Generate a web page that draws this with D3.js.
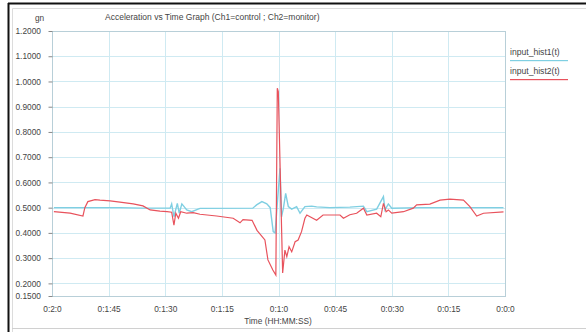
<!DOCTYPE html>
<html><head><meta charset="utf-8">
<script src="https://cdn.jsdelivr.net/npm/d3@7"></script>
<style>body{margin:0;background:#fff;overflow:hidden}svg{display:block;font-family:"Liberation Sans",Arial,sans-serif}</style>
</head><body><svg id="c" width="586" height="332"></svg>
<script>
// time in seconds (axis runs 120 -> 0), values in gn
const hist1Time = [119.5,102,95.9,88.7,88.3,87.7,86.8,86.3,85.6,84.3,83,80.8,66.8,65.8,64.4,63.1,62.2,61.4,60.9,60.4,59.6,59.2,58.7,58.1,57.4,56.5,55.2,54.3,53,51.2,49.9,46.4,41.1,37.5,36.6,34,32.2,31.8,30.9,30,22.5,0.4];
const hist1Vals = [0.500,0.500,0.498,0.498,0.515,0.464,0.517,0.478,0.515,0.491,0.484,0.497,0.498,0.511,0.524,0.515,0.500,0.405,0.400,0.500,0.656,0.464,0.498,0.557,0.504,0.494,0.504,0.478,0.504,0.506,0.503,0.500,0.502,0.506,0.484,0.494,0.544,0.491,0.515,0.498,0.500,0.500];
const hist2Time = [119.5,115.2,111.8,111.3,110.5,108.6,107.3,104.6,102,98.5,95.9,94,91.4,89.5,88.3,87.7,87.2,86.5,85.9,84.3,82.6,80.8,76.4,72,70.2,69.4,67,65.7,63.6,62.8,61.5,60.7,60.32,60.05,58.9,58.3,57.8,57.2,56.5,55.6,54.8,53.9,53,52.5,49.9,48.2,43.7,42.8,41.1,39.3,37.5,36.6,34,32.9,32.2,31.5,30.9,30,26.9,24.3,23.4,19.9,17.2,14.6,11,9.3,7.5,5.7,0.4];
const hist2Vals = [0.484,0.478,0.467,0.500,0.524,0.532,0.530,0.527,0.522,0.515,0.507,0.491,0.486,0.484,0.482,0.431,0.478,0.458,0.484,0.478,0.480,0.474,0.467,0.458,0.440,0.453,0.450,0.410,0.372,0.293,0.253,0.233,0.973,0.960,0.241,0.332,0.306,0.345,0.325,0.365,0.372,0.405,0.458,0.471,0.450,0.471,0.471,0.458,0.472,0.478,0.498,0.471,0.478,0.464,0.517,0.484,0.491,0.478,0.484,0.498,0.511,0.514,0.530,0.534,0.530,0.504,0.467,0.478,0.483];
const yTicks = [1.2,1.1,1.0,0.9,0.8,0.7,0.6,0.5,0.4,0.3,0.2,0.15];
const xTicks = [120,105,90,75,60,45,30,15,0];
const xTickLabels = ["0:2:0","0:1:45","0:1:30","0:1:15","0:1:0","0:0:45","0:0:30","0:0:15","0:0:0"];
const seriesNames = ["input_hist1(t)","input_hist2(t)"];
const colors = ["#7fcfe2","#e8525c"];

const svg = d3.select("#c");
const L=52,R=505,T=31,B=296;
const x = d3.scaleLinear().domain([120,0]).range([L,R]);
const y = d3.scaleLinear().domain([0.15,1.2]).range([B,T]);

// frame
svg.append("path").attr("d","M12.5,332 V8.5 H586").attr("fill","none").attr("stroke","#dcdcdc");
svg.append("line").attr("x1",12).attr("x2",586).attr("y1",328.5).attr("y2",328.5).attr("stroke","#d0d0d0");
svg.append("line").attr("x1",8).attr("x2",586).attr("y1",3.5).attr("y2",3.5).attr("stroke","#111").attr("stroke-width",2);
svg.append("line").attr("x1",8.5).attr("x2",8.5).attr("y1",3).attr("y2",332).attr("stroke","#111").attr("stroke-width",2);

// grid
const g = svg.append("g");
g.selectAll(".hg").data(yTicks.filter(v=>v<1.2 && v>0.15)).join("line")
 .attr("x1",L).attr("x2",R).attr("y1",d=>Math.round(y(d))+0.5).attr("y2",d=>Math.round(y(d))+0.5)
 .attr("stroke","#cfeaf2").attr("stroke-width",1);
g.selectAll(".vg").data(xTicks.filter(v=>v>0 && v<120)).join("line")
 .attr("y1",T).attr("y2",B).attr("x1",d=>Math.round(x(d))+0.5).attr("x2",d=>Math.round(x(d))+0.5)
 .attr("stroke","#cfeaf2").attr("stroke-width",1);
svg.append("rect").attr("x",L+0.5).attr("y",T+0.5).attr("width",R-L).attr("height",B-T).attr("fill","none").attr("stroke","#b8cfd8");

// y axis
const ya = svg.append("g").attr("transform",`translate(${L+0.5},0)`)
 .call(d3.axisLeft(y).tickValues(yTicks).tickFormat(d3.format(".4f")).tickSize(4).tickPadding(8));
ya.select(".domain").remove();
ya.selectAll("line").attr("stroke","#888");
ya.selectAll("text").attr("fill","#444").attr("font-size","8.3px").attr("text-anchor","start").attr("x",-37);
// x axis
const xa = svg.append("g").attr("transform",`translate(0,${B+0.5})`)
 .call(d3.axisBottom(x).tickValues(xTicks).tickFormat((d,i)=>xTickLabels[i]).tickSize(0).tickPadding(10));
xa.select(".domain").remove();
xa.selectAll("text").attr("fill","#444").attr("font-size","8.3px");

svg.append("text").attr("x",35).attr("y",21).attr("font-size","8.3px").attr("fill","#444").text("gn");
svg.append("text").attr("x",105).attr("y",20).attr("font-size","8.5px").attr("fill","#444").text("Acceleration vs Time Graph (Ch1=control ; Ch2=monitor)");
svg.append("text").attr("x",278).attr("y",324).attr("text-anchor","middle").attr("font-size","8.3px").attr("fill","#444").text("Time (HH:MM:SS)");

// lines
const mk = (ts,vs)=>ts.map((t,i)=>[t,vs[i]]);
const line = d3.line().x(d=>x(d[0])).y(d=>y(d[1]));
svg.append("path").datum(mk(hist1Time,hist1Vals)).attr("d",line).attr("fill","none").attr("stroke",colors[0]).attr("stroke-width",1.4);
svg.append("path").datum(mk(hist2Time,hist2Vals)).attr("d",line).attr("fill","none").attr("stroke",colors[1]).attr("stroke-width",1.2);

// legend
seriesNames.forEach((n,i)=>{
  const lgi = svg.append("g").attr("transform",`translate(510,${55+i*19})`);
  lgi.append("text").attr("font-size","8.6px").attr("fill","#444").text(n);
  lgi.append("rect").attr("x",0).attr("y",5).attr("width",58).attr("height",1.2).attr("fill",colors[i]);
});
</script></body></html>
